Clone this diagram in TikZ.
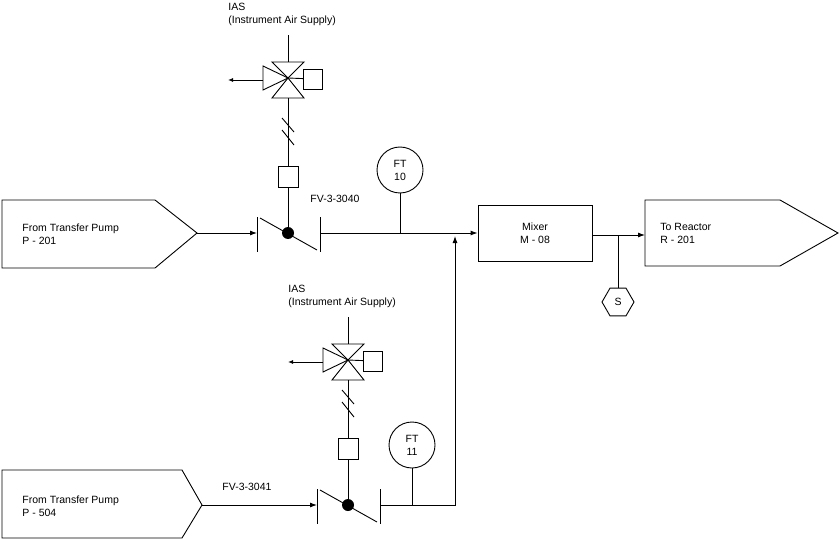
\documentclass[tikz,border=0pt]{standalone}
\usepackage{fontspec}
\setmainfont{Liberation Sans}
\usetikzlibrary{shapes.geometric,arrows.meta}
\begin{document}
\begin{tikzpicture}[x=1pt,y=-1pt,
    line width=0.9pt,
    txt/.style={font=\fontsize{10.5}{13}\selectfont,align=left,inner sep=0pt},
    flow/.style={-{Latex[length=7pt,width=5pt]}},
    boxsq/.style={draw,minimum width=20pt,minimum height=21pt,inner sep=0pt},
    ftcirc/.style={draw,circle,minimum size=46pt,inner sep=0pt,font=\fontsize{10.5}{13}\selectfont,align=center}]
    \useasboundingbox[fill=white] (0,0) rectangle (840,540);

    % Sources et destination
    \draw (2,200) -- (155,200) -- (197,233) -- (155,268) -- (2,268) -- cycle;
    \coordinate (src1) at (197,233);
    \node[txt,anchor=north west] (t1) at (22,223) {From Transfer Pump\\P - 201};
    \draw (2,470) -- (182,470) -- (202,505) -- (182,538) -- (2,538) -- cycle;
    \coordinate (src2) at (202,505);
    \node[txt,anchor=north west] (t2) at (22,495) {From Transfer Pump\\P - 504};
    \draw (645,200) -- (780,200) -- (838,233) -- (780,266) -- (645,266) -- cycle;
    \coordinate (dst) at (645,235);
    \node[txt,anchor=north west] (t3) at (660,223) {To Reactor\\R - 201};

    % Melangeur
    \node[draw,minimum width=114pt,minimum height=56pt,txt,align=center] (mix) at (535,233) {Mixer\\M - 08};

    % Vannes FV
    \foreach \n/\x/\y/\v/\lx/\ly/\tag in {a/288/233/78/310/195/3040, b/348/505/360/222/483/3041} {
        \node[fill,circle,minimum size=12pt,inner sep=0pt] (dot\n) at (\x,\y) {};
        \draw (\x-31,\y-16) -- (\x-31,\y+19) (\x+32,\y-16) -- (\x+32,\y+19);
        \draw (\x-28,\y-15) -- (\x+29,\y+17);
        \coordinate (vin\n) at (\x-31,\y);
        \coordinate (vout\n) at (\x+32,\y);
        \node[txt,anchor=north west] (fv\n) at (\lx,\ly) {FV-3-\tag};
        % actionneur
        \node[boxsq] (act\n) at (\x,\y-56) {};
        \draw (dot\n) -- (act\n);
        \draw (act\n.north) -- (\x,\v+20);
        \draw (\x-6,\y-115) -- (\x+6,\y-101) (\x-6,\y-103) -- (\x+6,\y-88);
        % vanne 3 voies
        \draw (\x,\v) -- (\x-16,\v-16) -- (\x+16,\v-16) -- cycle;
        \draw (\x,\v) -- (\x-16,\v+20) -- (\x+16,\v+20) -- cycle;
        \draw (\x,\v) -- (\x-25,\v-12) -- (\x-25,\v+12) -- cycle;
        \draw (\x,\v-16) -- (\x,\v-43);
        \node[boxsq,minimum width=19pt,minimum height=20pt] (pos\n) at (\x+25,\v+1) {};
        \draw (\x,\v) -- (pos\n);
        \coordinate (ex\n) at (\x-60,\v+2);
        \draw[-{Latex[length=5pt,width=4pt]}] (\x-25,\v+2) -- (ex\n);
        \node[txt,anchor=north west] (ias\n) at (\x-60,\v-75) {IAS\\(Instrument Air Supply)};
    }

    % Debitmetres
    \node[ftcirc] (ft10) at (400,170) {FT\\10};
    \node[ftcirc] (ft11) at (412,445) {FT\\11};
    \coordinate (tap10) at (400,233);
    \coordinate (tap11) at (412,505);
    \draw (ft10) -- (tap10);
    \draw (ft11) -- (tap11);

    % Lignes de procede
    \draw[flow] (src1) -- (vina);
    \draw[flow] (vouta) -- (mix.west);
    \draw[flow] (src2) -- (vinb);
    \coordinate (join) at (455,236);
    \draw[flow] (voutb) -| (join);
    \draw[flow] (mix.east |- dst) -- (dst);

    % Analyseur
    \node[draw,regular polygon,regular polygon sides=6,minimum size=32pt,inner sep=0pt,txt] (an) at (618,302) {S};
    \draw (618,235) -- (an);
\end{tikzpicture}
\end{document}
